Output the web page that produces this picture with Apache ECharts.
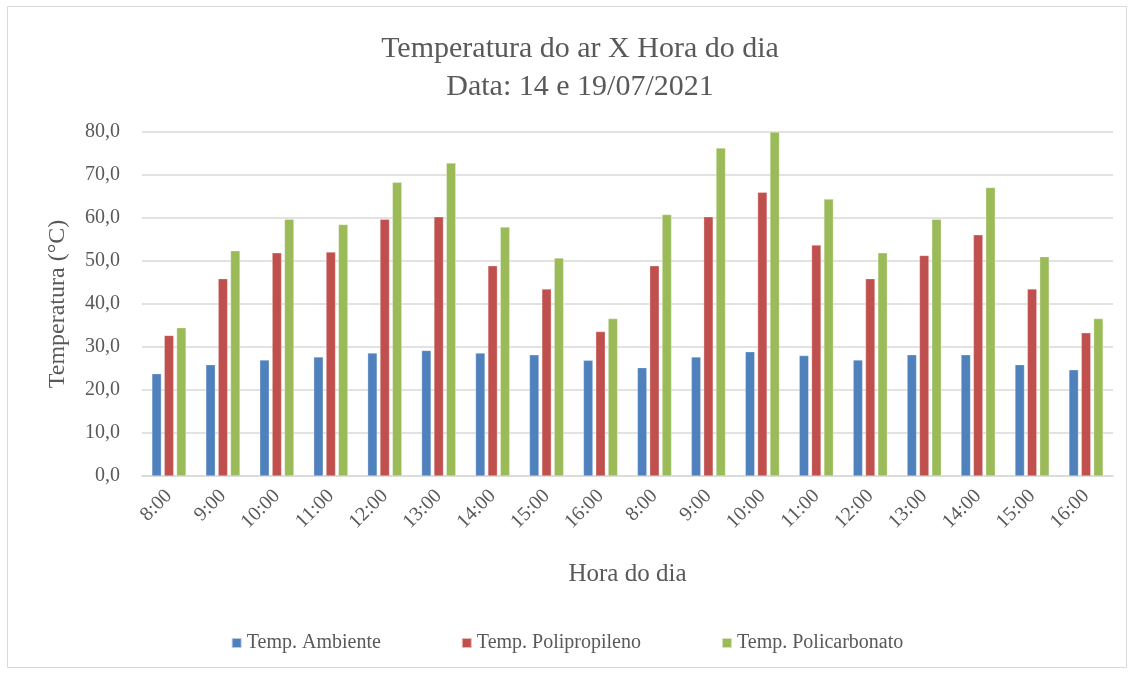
<!DOCTYPE html>
<html lang="pt">
<head>
    <meta charset="UTF-8">
    <title>Temperatura do ar X Hora do dia</title>
    <style>
        html, body { margin: 0; padding: 0; background: #fff; }
        #grafico { width: 1134px; height: 675px; }
    </style>
</head>
<body>
    <div id="grafico"></div>
    <script src="https://cdn.jsdelivr.net/npm/echarts@6/dist/echarts.min.js"></script>
    <script>
        // horas (dias 14 e 19/07/2021)
        var horas = ['8:00', '9:00', '10:00', '11:00', '12:00', '13:00', '14:00', '15:00', '16:00',
                     '8:00', '9:00', '10:00', '11:00', '12:00', '13:00', '14:00', '15:00', '16:00'];
        var tempAmbiente = [23.8, 25.9, 27.0, 27.7, 28.6, 29.2, 28.6, 28.2, 26.9,
                            25.2, 27.7, 28.9, 28.0, 27.0, 28.2, 28.2, 25.9, 24.7];
        var tempPolipropileno = [32.7, 45.9, 51.9, 52.1, 59.7, 60.3, 48.9, 43.5, 33.6,
                                 48.9, 60.3, 66.0, 53.7, 45.9, 51.3, 56.1, 43.5, 33.3];
        var tempPolicarbonato = [34.5, 52.4, 59.7, 58.5, 68.3, 72.8, 57.9, 50.7, 36.6,
                                 60.8, 76.3, 80.0, 64.4, 51.9, 59.7, 67.1, 51.0, 36.6];

        var fonte = '"Liberation Serif", "Times New Roman", serif';
        var cinza = '#595959';

        function serie(nome, dados, cor) {
            return {
                name: nome,
                type: 'bar',
                data: dados,
                barWidth: 9.5,
                barGap: '30%',
                itemStyle: { color: cor, borderColor: 'rgba(255,255,255,0.6)', borderWidth: 0.5 }
            };
        }

        var chart = echarts.init(document.getElementById('grafico'));
        chart.setOption({
            animation: false,
            textStyle: { fontFamily: fonte },
            graphic: [{
                type: 'rect',
                shape: { x: 7.5, y: 6.5, width: 1119, height: 661 },
                style: { fill: 'none', stroke: '#d9d9d9', lineWidth: 1 },
                silent: true
            }],
            title: {
                text: 'Temperatura do ar X Hora do dia\nData: 14 e 19/07/2021',
                left: 575,
                textAlign: 'center',
                top: 25,
                textStyle: {
                    fontFamily: fonte,
                    fontWeight: 'normal',
                    fontSize: 30,
                    color: cinza,
                    lineHeight: 38
                }
            },
            legend: {
                top: 628,
                left: 'center',
                itemWidth: 10,
                itemHeight: 10,
                itemGap: 80,
                icon: 'rect',
                textStyle: { fontFamily: fonte, fontSize: 20, color: cinza },
                data: ['Temp. Ambiente', 'Temp. Polipropileno', 'Temp. Policarbonato']
            },
            grid: { left: 142, right: 21, top: 132, bottom: 199 },
            xAxis: {
                type: 'category',
                data: horas,
                name: 'Hora do dia',
                nameLocation: 'middle',
                nameGap: 86,
                nameTextStyle: { fontFamily: fonte, fontSize: 25, color: cinza },
                axisLine: { lineStyle: { color: '#d9d9d9', width: 1.5 } },
                axisTick: { show: false },
                axisLabel: {
                    rotate: 45,
                    interval: 0,
                    margin: 17,
                    fontFamily: fonte,
                    fontSize: 20,
                    color: cinza
                }
            },
            yAxis: {
                type: 'value',
                min: 0,
                max: 80,
                interval: 10,
                name: 'Temperatura (°C)',
                nameLocation: 'middle',
                nameGap: 72,
                nameTextStyle: { fontFamily: fonte, fontSize: 24, color: cinza },
                axisLine: { show: false },
                axisTick: { show: false },
                splitLine: { lineStyle: { color: '#d9d9d9', width: 1.5 } },
                axisLabel: {
                    margin: 22,
                    fontFamily: fonte,
                    fontSize: 20,
                    color: cinza,
                    formatter: function (v) { return v.toFixed(1).replace('.', ','); }
                }
            },
            series: [
                serie('Temp. Ambiente', tempAmbiente, '#4F81BD'),
                serie('Temp. Polipropileno', tempPolipropileno, '#C0504D'),
                serie('Temp. Policarbonato', tempPolicarbonato, '#9BBB59')
            ]
        });
    </script>
</body>
</html>
